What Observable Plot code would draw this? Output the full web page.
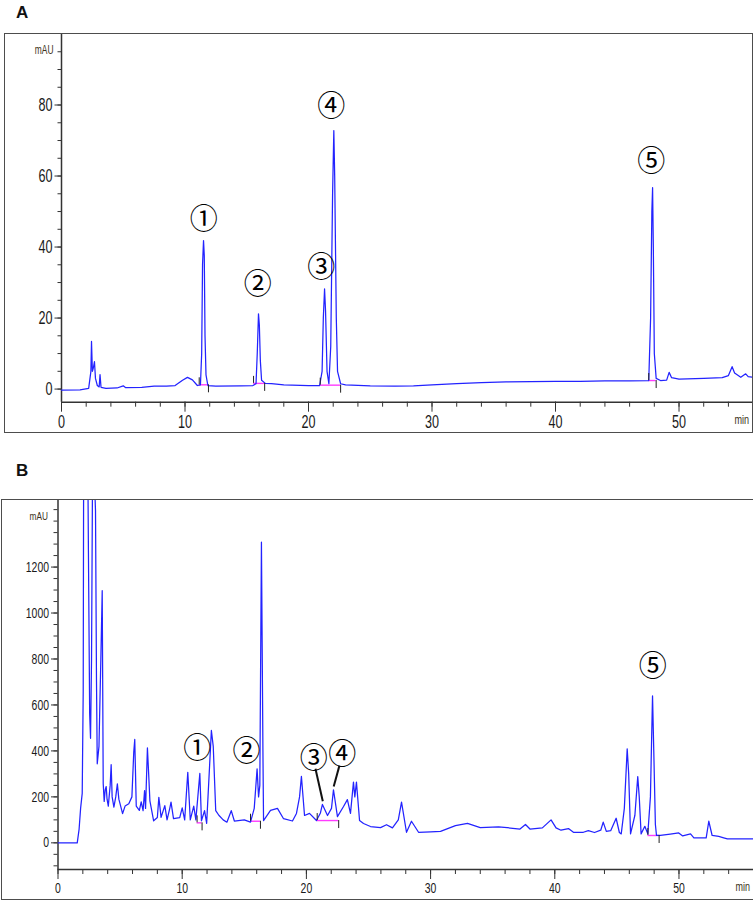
<!DOCTYPE html>
<html><head><meta charset="utf-8">
<script src="https://cdn.jsdelivr.net/npm/d3@7"></script>
<script src="https://cdn.jsdelivr.net/npm/@observablehq/plot@0.6"></script>
<style>
body{margin:0;background:#fff;width:753px;height:901px;position:relative;overflow:hidden;font-family:"Liberation Sans",Arial,sans-serif}
.lab{position:absolute;font-weight:bold;font-size:17px;color:#111;line-height:1}
.frame{position:absolute;border:1.5px solid #4d4d4d;box-sizing:border-box;pointer-events:none}
.panel{position:absolute;left:0}
</style></head><body>
<div class="lab" style="left:16px;top:4px">A</div>
<div class="lab" style="left:16px;top:462px">B</div>
<div class="panel" id="pa" style="top:0px"></div>
<div class="panel" id="pb" style="top:460px"></div>
<div class="frame" style="left:4px;top:33px;width:749px;height:400px"></div>
<div class="frame" style="left:1px;top:498.5px;width:770px;height:401px;border-right:none"></div>
<script>
// ---- Panel A trace (min, mAU)
const aTime = [0,1.5,2.2,2.38,2.43,2.5,2.58,2.67,2.75,2.9,3.05,3.12,3.2,3.6,4.5,5.0,5.2,6.5,7.5,8.5,9.2,9.8,10.2,10.6,11.0,11.25,11.35,11.42,11.5,11.56,11.62,11.7,11.85,12.5,14.5,15.5,15.75,15.85,15.95,16.02,16.1,16.2,16.5,17,18,20,20.9,21.1,21.2,21.3,21.38,21.5,21.65,21.8,21.95,22.05,22.12,22.25,22.35,22.6,23,25,27,28.5,30,32,34,36,38,40,42,44,46,47.55,47.7,47.8,47.86,47.92,48.0,48.15,48.5,49.0,49.2,49.4,50,52,53.5,54.0,54.3,54.5,55.0,55.4,55.6,56];
const aSignal = [-0.3,-0.2,0.2,5,13.4,5,6,7.7,3,1,0.6,4.1,0.5,0.2,0.3,0.9,0.4,0.5,0.8,0.8,1.0,2.5,3.3,2.6,1.0,1.2,10,35,41.8,37.6,15,4,1.0,0.8,0.9,1.0,1.5,10,21.2,18,8,2.5,1.6,1.5,1.2,1.0,1.0,5,20,28.2,22,5,1.5,12,55,72.8,60,20,5,1.5,1.2,0.9,0.8,0.9,1.2,1.5,1.8,2.0,2.1,2.2,2.2,2.3,2.3,2.4,20,50,56.7,40,10,3,2.4,2.5,4.7,3.2,2.8,3.0,3.2,3.8,6.3,4.5,3.3,4.3,3.5,3.3];

// ---- Panel B trace (min, mAU)
const bTime = [0,1.55,1.7,1.82,1.95,2.03,2.1,2.3,2.45,2.55,2.62,2.7,2.8,2.92,3.02,3.1,3.16,3.3,3.45,3.56,3.64,3.72,3.8,3.88,3.95,4.05,4.2,4.28,4.36,4.5,4.65,4.78,4.9,5.2,5.4,5.7,5.95,6.1,6.18,6.3,6.55,6.7,6.85,6.97,7.05,7.2,7.3,7.4,7.7,8.0,8.12,8.3,8.6,8.78,9.0,9.1,9.3,9.8,10.0,10.2,10.45,10.65,10.93,11.1,11.42,11.55,11.8,11.97,12.35,12.5,12.7,12.95,13.3,13.6,13.95,14.2,15.0,15.5,15.8,16.03,16.15,16.25,16.38,16.5,16.55,17.11,17.67,18.16,18.88,19.2,19.45,19.6,19.85,20.25,20.81,21.13,21.29,21.7,22.02,22.18,22.5,22.99,23.3,23.55,23.79,23.9,24.03,24.28,24.6,25.16,25.97,26.45,26.93,27.4,27.66,28.06,28.46,29.03,30,30.8,32.0,32.97,34.0,35.47,37.2,37.64,38,39,39.7,40.1,40.5,41.1,41.5,42.3,42.7,43.2,43.7,43.9,44.15,44.5,44.94,45.2,45.35,45.6,45.83,45.95,46.1,46.45,46.68,46.8,46.95,47.25,47.49,47.7,47.87,47.97,48.1,48.19,48.5,49.3,49.98,50.3,50.93,51.2,52.19,52.4,52.67,53.2,53.6,53.9,56];
const bSignal = [0,0,60,150,215,660,2600,2400,1270,560,455,800,1800,1600,1446,700,344,420,800,1097,258,180,230,245,190,160,250,340,200,155,200,257,190,127,160,170,200,395,450,160,141,178,140,227,150,413,300,183,96,110,198,111,162,100,150,177,105,110,152,100,307,100,160,100,302,96,140,85,489,420,140,120,100,90,140,95,100,90,150,322,200,250,1308,400,97,141,150,105,95,128,200,289,119,128,97,130,167,119,150,231,114,158,188,128,264,200,264,97,84,71,66,79,65,100,177,46,94,46,48,50,75,85,66,70,60,80,60,65,100,65,55,62,46,46,53,45,55,90,50,53,107,45,39,150,409,300,39,120,288,200,39,72,39,200,640,400,80,32,32,38,43,30,39,22,22,94,32,28,22,17,17];

// ---- peak labels
const peakLabels = ["①","②","③","④","⑤"];
const aLabelTime = [11.52,15.9,21.03,21.84,47.75];
const aLabelSignal = [47.7,29.4,34.1,79.4,63.9];
const bLabelTime = [11.21,15.18,20.6,22.88,47.89];
const bLabelSignal = [409,394,365,384,764];

// ---- integration baselines
const aIntStart = [11.15,15.55,20.95,47.55];
const aIntEnd = [11.9,16.45,22.6,48.15];
const aIntLevel = [1.2,1.6,1.1,2.4];
const bIntStart = [11.2,15.5,20.87,47.5];
const bIntEnd = [11.6,16.3,22.6,48.4];
const bIntLevel = [87,94,97,32];

// ---- leader lines in B (③, ④)
const bLeadT1 = [20.73,22.66];
const bLeadV1 = [322,336];
const bLeadT2 = [21.32,22.2];
const bLeadV2 = [181,245];

// ---- ticks
const xMajorTicks = [0,10,20,30,40,50];
const aYMajorTicks = [0,20,40,60,80];
const bYMajorTicks = [0,200,400,600,800,1000,1200];

const numFont = '"Liberation Sans",Arial,sans-serif';

function panel(cfg) {
  const trace = cfg.time.map((t,i)=>({t, v: cfg.signal[i]}));
  const labels = peakLabels.map((s,i)=>({s, t: cfg.labT[i], v: cfg.labV[i]}));
  const ints = cfg.intS.map((s,i)=>({s, e: cfg.intE[i], v: cfg.intL[i]}));
  const leads = (cfg.leadT1||[]).map((t,i)=>({t1:t, v1:cfg.leadV1[i], t2:cfg.leadT2[i], v2:cfg.leadV2[i]}));
  const fmt = d3.format("d");
  const svg = Plot.plot({
    width: 753, height: cfg.height,
    marginLeft: cfg.ml, marginRight: cfg.mr, marginTop: cfg.mt, marginBottom: cfg.mb,
    style: {fontFamily: numFont, fontSize: cfg.fs + "px", color: "#1a1a1a", background: "transparent", overflow: "visible"},
    x: {domain: cfg.xd, label: null},
    y: {domain: cfg.yd, label: null},
    marks: [
      Plot.axisY(cfg.yMinor, {anchor: "left", tickSize: cfg.minorY, tickFormat: () => "", stroke: "#333"}),
      Plot.axisY(cfg.yMajor, {anchor: "left", tickSize: 6.5, tickPadding: 2.5, stroke: "#333", fontSize: cfg.fs, tickFormat: fmt}),
      Plot.axisX(cfg.xMinor, {anchor: "bottom", tickSize: 5, tickFormat: () => "", stroke: "#333"}),
      Plot.axisX(xMajorTicks, {anchor: "bottom", tickSize: 10, tickPadding: cfg.xpad, stroke: "#333", fontSize: cfg.fs, tickFormat: fmt}),
      Plot.ruleX([cfg.xd[0]], {stroke: "#333", strokeWidth: 1.5}),
      Plot.ruleY([cfg.yd[0]], {stroke: "#333", strokeWidth: 1.5}),
      Plot.text(["mAU"], {frameAnchor: "top-left", dx: cfg.mauDx, dy: cfg.mauDy, textAnchor: "end", fontSize: cfg.smallFs, fill: "#3d3220"}),
      Plot.text(["min"], {frameAnchor: "bottom-right", dx: -18, dy: cfg.minDy, textAnchor: "start", fontSize: cfg.smallFs + 1, fill: "#3d3220"}),
      Plot.ruleY(ints, {x1: "s", x2: "e", y: "v", stroke: "#ff3cff", strokeWidth: 1.4}),
      Plot.line(trace, {x: "t", y: "v", stroke: "#2323ff", strokeWidth: 1.25, clip: true}),
      Plot.ruleX(ints, {x: "s", y1: "v", y2: "v", insetTop: -7, stroke: "#222", strokeWidth: 1}),
      Plot.ruleX(ints, {x: "e", y1: "v", y2: "v", insetBottom: -8, stroke: "#222", strokeWidth: 1}),
      Plot.link(leads, {x1: "t1", y1: "v1", x2: "t2", y2: "v2", stroke: "#111", strokeWidth: 2}),
      Plot.text(labels, {x: "t", y: "v", text: "s", fontSize: 28, fontFamily: '"Noto Sans CJK SC","DejaVu Sans",sans-serif', fill: "#000", lineAnchor: "middle"})
    ]
  });
  // condense the numeric/unit labels horizontally, like the instrument font
  svg.querySelectorAll('g[aria-label="y-axis tick label"] text, g[aria-label="x-axis tick label"] text, g[aria-label="text"] text').forEach(t => {
    if (/[①-⑤]/.test(t.textContent)) return;
    t.setAttribute("transform", `${t.getAttribute("transform") || ""} scale(${cfg.sx},1)`);
  });
  return svg;
}

document.getElementById("pa").append(panel({
  time: aTime, signal: aSignal, labT: aLabelTime, labV: aLabelSignal,
  intS: aIntStart, intE: aIntEnd, intL: aIntLevel,
  height: 440, ml: 61, mr: 1, mt: 33.5, mb: 38.3,
  xd: [0, 55.95], yd: [-3.7, 100],
  yMajor: aYMajorTicks, yMinor: d3.range(0, 100, 5), xMinor: d3.range(0, 56, 2),
  minorY: 3.5, fs: 18, smallFs: 12, sx: 0.7, xpad: 3, mauDx: -8, mauDy: 11, minDy: 22
}));

document.getElementById("pb").append(panel({
  time: bTime, signal: bSignal, labT: bLabelTime, labV: bLabelSignal,
  intS: bIntStart, intE: bIntEnd, intL: bIntLevel,
  leadT1: bLeadT1, leadV1: bLeadV1, leadT2: bLeadT2, leadV2: bLeadV2,
  height: 441, ml: 57.5, mr: 0, mt: 39, mb: 32,
  xd: [0, 56], yd: [-116, 1494],
  yMajor: bYMajorTicks, yMinor: d3.range(-100, 1494, 50), xMinor: d3.range(0, 57, 2),
  minorY: 4, fs: 14.5, smallFs: 11.5, sx: 0.72, xpad: 3, mauDx: -10, mauDy: 12, minDy: 21
}));
</script>
</body></html>
